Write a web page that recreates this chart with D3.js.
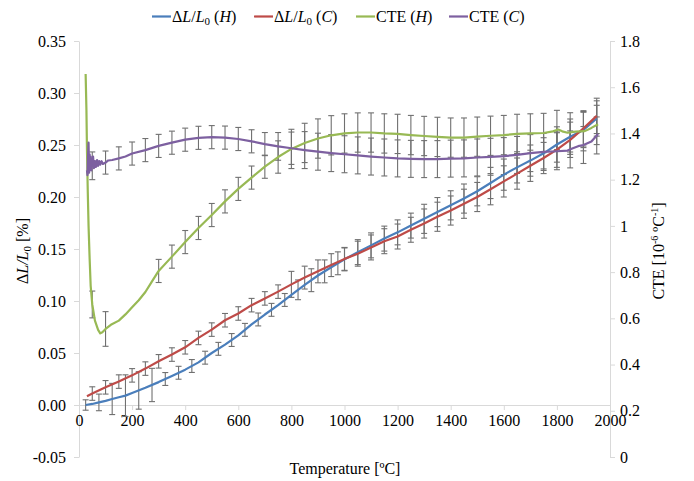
<!DOCTYPE html>
<html>
<head>
<meta charset="utf-8">
<script src="https://cdn.jsdelivr.net/npm/d3@7"></script>
<style>
  body { margin: 0; background: #fff; }
  svg { display: block; }
  text { font-family: "Liberation Serif", "Times New Roman", serif; fill: #000; }
</style>
</head>
<body>
<svg id="chart" width="694" height="481"></svg>
<script>
// ---- Axis ticks ----
const xTicks = [0, 200, 400, 600, 800, 1000, 1200, 1400, 1600, 1800, 2000];
const leftTicks = [-0.05, 0, 0.05, 0.10, 0.15, 0.20, 0.25, 0.30, 0.35];
const rightTicks = [0, 0.2, 0.4, 0.6, 0.8, 1, 1.2, 1.4, 1.6, 1.8];

// ---- ΔL/L0 (H), heating [%] ----
const dlHTemp = [25, 50, 75, 100, 125, 150, 175, 200, 250, 300, 350, 400, 450, 500, 550, 600, 650, 700, 750, 800,
  850, 900, 950, 1000, 1050, 1100, 1150, 1200, 1250, 1300, 1350, 1400, 1450, 1500, 1550, 1600, 1650, 1700, 1750,
  1800, 1850, 1900, 1950];
const dlHVal = [0.000, 0.001, 0.0025, 0.004, 0.0058, 0.0075, 0.009, 0.0115, 0.0165, 0.022, 0.028, 0.034, 0.041,
  0.050, 0.058, 0.067, 0.0775, 0.087, 0.096, 0.106, 0.1155, 0.1245, 0.1325, 0.140, 0.147, 0.1535, 0.160, 0.166,
  0.1725, 0.179, 0.1855, 0.192, 0.1985, 0.2055, 0.2135, 0.2215, 0.2285, 0.235, 0.242, 0.2505, 0.258, 0.2645, 0.2755];

// ---- ΔL/L0 (C), cooling [%] ----
const dlCTemp = [30, 50, 100, 150, 200, 250, 300, 350, 400, 450, 500, 550, 600, 650, 700, 750, 800, 850, 900, 950,
  1000, 1050, 1100, 1150, 1200, 1250, 1300, 1350, 1400, 1450, 1500, 1550, 1600, 1650, 1700, 1750, 1800, 1850, 1900, 1950];
const dlCVal = [0.0085, 0.011, 0.017, 0.0225, 0.0285, 0.035, 0.042, 0.0485, 0.0555, 0.0645, 0.0725, 0.0815, 0.088,
  0.096, 0.1025, 0.109, 0.116, 0.1225, 0.1285, 0.1345, 0.1405, 0.1455, 0.1515, 0.1575, 0.162, 0.1685, 0.1745, 0.181,
  0.187, 0.1935, 0.200, 0.2075, 0.215, 0.2225, 0.230, 0.2375, 0.2455, 0.255, 0.266, 0.278];

// ---- CTE (H) [1e-6 /°C] ----
const cteHTemp = [25, 28, 30, 33, 36, 40, 44, 50, 60, 72, 80, 88, 100, 120, 150, 175, 200, 225, 250, 275, 300, 350,
  400, 450, 500, 550, 600, 650, 700, 750, 800, 850, 900, 950, 1000, 1050, 1100, 1150, 1200, 1250, 1300, 1350, 1400,
  1450, 1500, 1550, 1600, 1650, 1700, 1750, 1785, 1805, 1820, 1840, 1870, 1905, 1930, 1955];
const cteHVal = [1.657, 1.50, 1.33, 1.15, 1.00, 0.86, 0.74, 0.66, 0.59, 0.55, 0.535, 0.54, 0.554, 0.572, 0.59, 0.617,
  0.648, 0.678, 0.714, 0.76, 0.805, 0.867, 0.930, 0.991, 1.047, 1.106, 1.160, 1.209, 1.256, 1.298, 1.333, 1.359, 1.378,
  1.392, 1.400, 1.404, 1.404, 1.400, 1.398, 1.393, 1.389, 1.385, 1.382, 1.382, 1.386, 1.390, 1.393, 1.398, 1.400,
  1.402, 1.409, 1.417, 1.409, 1.403, 1.408, 1.410, 1.424, 1.440];

// ---- CTE (C) [1e-6 /°C] ----
const cteCTemp = [30, 32, 34, 36, 38, 40, 42, 44, 46, 48, 50, 53, 56, 60, 64, 68, 72, 76, 80, 85, 90, 100, 110, 125,
  150, 175, 200, 250, 300, 350, 400, 450, 500, 550, 600, 650, 700, 750, 800, 850, 900, 950, 1000, 1050, 1100, 1150,
  1200, 1250, 1300, 1350, 1400, 1450, 1500, 1550, 1600, 1650, 1700, 1750, 1800, 1840, 1860, 1880, 1900, 1930, 1955];
const cteCVal = [1.24, 1.22, 1.30, 1.36, 1.23, 1.31, 1.25, 1.30, 1.24, 1.29, 1.26, 1.30, 1.25, 1.28, 1.255, 1.285,
  1.26, 1.28, 1.265, 1.28, 1.268, 1.274, 1.283, 1.285, 1.292, 1.30, 1.313, 1.328, 1.346, 1.36, 1.373, 1.381, 1.384,
  1.382, 1.376, 1.366, 1.354, 1.344, 1.336, 1.328, 1.321, 1.315, 1.31, 1.305, 1.30, 1.296, 1.292, 1.29, 1.289, 1.289,
  1.291, 1.292, 1.296, 1.299, 1.302, 1.307, 1.315, 1.32, 1.323, 1.326, 1.336, 1.345, 1.35, 1.365, 1.398];

// ---- Error bars: temperatures and half-widths ----
const errDlHTemp = [25, 75, 125, 175, 225, 275, 325, 375, 425, 475, 525, 575, 625, 675, 725, 775, 825, 875, 925, 975,
  1000, 1050, 1100, 1150, 1200, 1250, 1300, 1350, 1400, 1450, 1500, 1550, 1600, 1650, 1700, 1750, 1800, 1850, 1900, 1950];
const errDlHHalf = [0.005, 0.008, 0.015, 0.020, 0.018, 0.016, 0.0062, 0.0062, 0.0062, 0.0062, 0.0062, 0.0062, 0.0062,
  0.0062, 0.0062, 0.0062, 0.0095, 0.011, 0.011, 0.011,
  0.011, 0.012, 0.012, 0.012, 0.012, 0.012, 0.014, 0.014, 0.014, 0.014, 0.014, 0.015, 0.015, 0.015, 0.015, 0.015,
  0.017, 0.017, 0.017, 0.017];

const errDlCTemp = [50, 100, 150, 200, 250, 300, 350, 400, 450, 500, 550, 600, 650, 700, 750, 800, 850, 900, 950, 1000,
  1050, 1100, 1150, 1200, 1250, 1300, 1350, 1400, 1450, 1500, 1550, 1600, 1650, 1700, 1750, 1800, 1850, 1900, 1950];
const errDlCHalf = [0.0065, 0.0065, 0.0065, 0.0065, 0.0065, 0.0065, 0.0065, 0.0065, 0.0065, 0.0065, 0.0065, 0.0065,
  0.0065, 0.0065, 0.0065, 0.0125, 0.011, 0.011, 0.011, 0.011, 0.012, 0.012, 0.012, 0.012, 0.012, 0.014, 0.014, 0.014,
  0.014, 0.014, 0.015, 0.015, 0.015, 0.015, 0.015, 0.017, 0.017, 0.017, 0.017];

const errCteHTemp = [50, 100, 300, 350, 400, 450, 500, 550, 600, 650, 700, 750, 800, 850, 900, 950, 1000, 1050, 1100,
  1150, 1200, 1250, 1300, 1350, 1400, 1450, 1500, 1550, 1600, 1650, 1700, 1750, 1800, 1850, 1900, 1950];
const errCteHHalf = [0.058, 0.075, 0.05, 0.05, 0.05, 0.05, 0.05, 0.05, 0.05, 0.05, 0.05, 0.07, 0.085, 0.085, 0.085,
  0.085, 0.085, 0.085, 0.085, 0.085, 0.085, 0.085, 0.085, 0.085, 0.085, 0.085, 0.085, 0.085, 0.085, 0.085, 0.085,
  0.085, 0.085, 0.085, 0.085, 0.085];

const errCteCTemp = [50, 100, 150, 200, 250, 300, 350, 400, 450, 500, 550, 600, 650, 700, 750, 800, 850, 900, 950, 1000,
  1050, 1100, 1150, 1200, 1250, 1300, 1350, 1400, 1450, 1500, 1550, 1600, 1650, 1700, 1750, 1800, 1850, 1900, 1950];
const errCteCHalf = [0.06, 0.05, 0.05, 0.05, 0.05, 0.05, 0.05, 0.05, 0.05, 0.05, 0.05, 0.05, 0.05, 0.05, 0.06, 0.07,
  0.08, 0.08, 0.08, 0.08, 0.08, 0.08, 0.08, 0.08, 0.08, 0.08, 0.08, 0.08, 0.08, 0.08, 0.08, 0.08, 0.08, 0.08, 0.08,
  0.08, 0.08, 0.08, 0.08];

// ---- Series colours ----
const colors = { dlH: "#4a7ebb", dlC: "#be4b48", cteH: "#98b954", cteC: "#7d60a0" };

// ---- Scales ----
const svg = d3.select("#chart");
const x = d3.scaleLinear().domain([0, 2000]).range([79, 610]);
const yL = d3.scaleLinear().domain([-0.05, 0.35]).range([457, 41]);
const yR = d3.scaleLinear().domain([0, 1.8]).range([457, 41]);
const axisColor = "#d9d9d9";

function styleAxis(g) {
  g.attr("font-family", null).attr("font-size", null);
  g.selectAll(".domain").attr("stroke", axisColor);
  g.selectAll(".tick line").attr("stroke", axisColor);
  g.selectAll(".tick text").attr("font-size", "16px").attr("fill", "#000");
}

svg.append("g").attr("transform", "translate(79,0)")
  .call(d3.axisLeft(yL).tickValues(leftTicks).tickFormat(d => d.toFixed(2))
    .tickSize(5).tickPadding(8).tickSizeOuter(0))
  .call(styleAxis);

svg.append("g").attr("transform", "translate(610,0)")
  .call(d3.axisRight(yR).tickValues(rightTicks).tickFormat(d => String(d))
    .tickSize(5).tickPadding(5).tickSizeOuter(0))
  .call(styleAxis);

svg.append("g").attr("transform", `translate(0,${yL(0)})`)
  .call(d3.axisBottom(x).tickValues(xTicks).tickFormat(d3.format("d"))
    .tickSize(5).tickPadding(5).tickSizeOuter(0))
  .call(styleAxis);

// ---- Helpers ----
function zip(a, b) { return a.map((t, i) => [t, b[i]]); }
// value of a series at temperature t (linear between its own points)
function valueAt(temps, vals, t) {
  const i = d3.bisectLeft(temps, t);
  if (i <= 0) return vals[0];
  if (i >= temps.length) return vals[vals.length - 1];
  if (temps[i] === t) return vals[i];
  const f = (t - temps[i - 1]) / (temps[i] - temps[i - 1]);
  return vals[i - 1] + f * (vals[i] - vals[i - 1]);
}

const series = [
  { key: "dlH", temps: dlHTemp, vals: dlHVal, y: yL, errT: errDlHTemp, errH: errDlHHalf },
  { key: "dlC", temps: dlCTemp, vals: dlCVal, y: yL, errT: errDlCTemp, errH: errDlCHalf },
  { key: "cteH", temps: cteHTemp, vals: cteHVal, y: yR, errT: errCteHTemp, errH: errCteHHalf },
  { key: "cteC", temps: cteCTemp, vals: cteCVal, y: yR, errT: errCteCTemp, errH: errCteCHalf }
];

// ---- Error bars ----
const gErr = svg.append("g").attr("stroke", "#707070").attr("stroke-width", 1.1).attr("fill", "none");
series.forEach(s => {
  s.errT.forEach((t, i) => {
    const mid = valueAt(s.temps, s.vals, t);
    const cx = x(t), y1 = s.y(mid + s.errH[i]), y2 = s.y(mid - s.errH[i]);
    gErr.append("line").attr("x1", cx).attr("x2", cx).attr("y1", y1).attr("y2", y2);
    gErr.append("line").attr("x1", cx - 3).attr("x2", cx + 3).attr("y1", y1).attr("y2", y1);
    gErr.append("line").attr("x1", cx - 3).attr("x2", cx + 3).attr("y1", y2).attr("y2", y2);
  });
});

// ---- Lines ----
series.forEach(s => {
  const line = d3.line().x(d => x(d[0])).y(d => s.y(d[1]));
  svg.append("path").datum(zip(s.temps, s.vals))
    .attr("fill", "none").attr("stroke", colors[s.key])
    .attr("stroke-width", 2.2).attr("stroke-linejoin", "round")
    .attr("d", line);
});

// ---- Rich text helper (italic / sub / sup parts) ----
function rich(textSel, parts) {
  let cur = 0;
  parts.forEach(p => {
    const ts = textSel.append("tspan").text(p.t);
    if (p.i) ts.attr("font-style", "italic");
    let target = 0;
    if (p.sub) { ts.attr("font-size", "11px"); target = 3; }
    if (p.sup) { ts.attr("font-size", "10px"); target = -6; }
    if (target !== cur) { ts.attr("dy", target - cur); cur = target; }
  });
}

// ---- Legend ----
const legendItems = [
  { key: "dlH", x: 152, parts: [{ t: "Δ" }, { t: "L" , i: true }, { t: "/" }, { t: "L", i: true }, { t: "0", sub: true }, { t: " (" }, { t: "H", i: true }, { t: ")" }] },
  { key: "dlC", x: 254, parts: [{ t: "Δ" }, { t: "L" , i: true }, { t: "/" }, { t: "L", i: true }, { t: "0", sub: true }, { t: " (" }, { t: "C", i: true }, { t: ")" }] },
  { key: "cteH", x: 356, parts: [{ t: "CTE (" }, { t: "H", i: true }, { t: ")" }] },
  { key: "cteC", x: 449, parts: [{ t: "CTE (" }, { t: "C", i: true }, { t: ")" }] }
];
const gLeg = svg.append("g");
legendItems.forEach(it => {
  gLeg.append("line").attr("x1", it.x).attr("x2", it.x + 19).attr("y1", 16.5).attr("y2", 16.5)
    .attr("stroke", colors[it.key]).attr("stroke-width", 2.2);
  const t = gLeg.append("text").attr("x", it.x + 20).attr("y", 22).attr("font-size", "16px");
  rich(t, it.parts);
});

// ---- Axis titles ----
svg.append("text").attr("x", 345).attr("y", 474).attr("text-anchor", "middle")
  .attr("font-size", "16px").text("Temperature [ºC]");

const tL = svg.append("text").attr("transform", "translate(28,251) rotate(-90)")
  .attr("text-anchor", "middle").attr("font-size", "16px");
rich(tL, [{ t: "Δ" }, { t: "L/L", i: true }, { t: "0", sub: true }, { t: " [%]" }]);

const tR = svg.append("text").attr("transform", "translate(664,251) rotate(-90)")
  .attr("text-anchor", "middle").attr("font-size", "16px");
rich(tR, [{ t: "CTE  [10" }, { t: "-6", sup: true }, { t: " ºC" }, { t: "-1", sup: true }, { t: "]" }]);
</script>
</body>
</html>
